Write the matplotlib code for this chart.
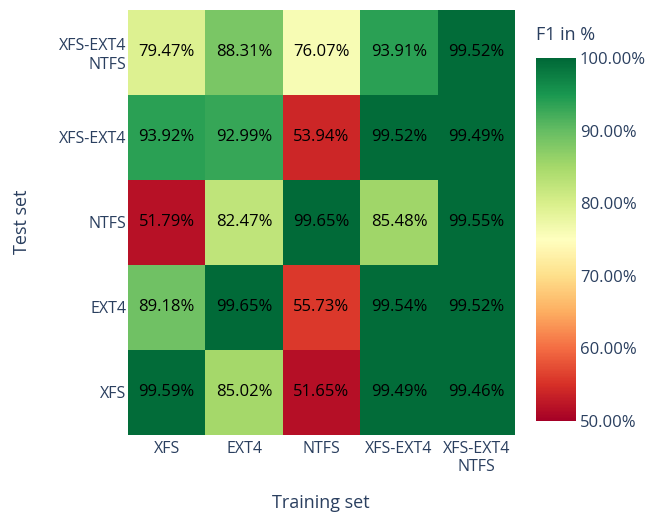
import numpy as np
from matplotlib import pyplot as plt

plt.rcParams['font.family'] = ['Open Sans', 'DejaVu Sans']

# Categories (training set on x, test set on y, bottom to top)
train_sets = ["XFS", "EXT4", "NTFS", "XFS-EXT4", "XFS-EXT4\nNTFS"]
test_sets = ["XFS", "EXT4", "NTFS", "XFS-EXT4", "XFS-EXT4\nNTFS"]

# F1 scores in %, one row per test set
f1_xfs = [99.59, 85.02, 51.65, 99.49, 99.46]
f1_ext4 = [89.18, 99.65, 55.73, 99.54, 99.52]
f1_ntfs = [51.79, 82.47, 99.65, 85.48, 99.55]
f1_xfs_ext4 = [93.92, 92.99, 53.94, 99.52, 99.49]
f1_all = [79.47, 88.31, 76.07, 93.91, 99.52]

cbar_ticks = [50, 60, 70, 80, 90, 100]

text_col = "#2a3f5f"

z = np.array([f1_xfs, f1_ext4, f1_ntfs, f1_xfs_ext4, f1_all])

fig = plt.figure(figsize=(6.55, 5.14), dpi=100)
ax = fig.add_axes([0.1954, 0.1537, 0.591, 0.827])
cax = fig.add_axes([0.818, 0.181, 0.061, 0.706])

mesh = ax.pcolormesh(z, cmap="RdYlGn", vmin=50, vmax=100)

# Cell annotations
for i in range(z.shape[0]):
    for j in range(z.shape[1]):
        ax.text(j + 0.5, i + 0.5, "%.2f%%" % z[i, j], ha="center", va="center",
                color="black", fontsize=12)

ax.set_xticks(np.arange(len(train_sets)) + 0.5)
ax.set_xticklabels(train_sets, fontsize=11.5, color=text_col, ha="center")
ax.set_yticks(np.arange(len(test_sets)) + 0.5)
ax.set_yticklabels(test_sets, fontsize=11.5, color=text_col, ha="right", multialignment="right")
ax.tick_params(axis="y", length=0, pad=1)
ax.tick_params(axis="x", length=0, pad=4)
for s in ax.spines.values():
    s.set_visible(False)

# Axis titles
fig.text(321 / 655, 1 - 503 / 514, "Training set", fontsize=13, color=text_col,
         ha="center", va="center")
fig.text(22 / 655, 1 - 222 / 514, "Test set", fontsize=13, color=text_col,
         ha="center", va="center", rotation=90)

# Colorbar
cb = fig.colorbar(mesh, cax=cax, ticks=cbar_ticks)
cb.outline.set_visible(False)
cb.ax.set_yticklabels(["%.2f%%" % t for t in cbar_ticks], fontsize=12, color=text_col)
cb.ax.tick_params(length=0, pad=3)
fig.text(0.818, 0.932, "F1 in %", fontsize=13, color=text_col, ha="left", va="center")

plt.savefig("out.png", dpi=100)
plt.close()
